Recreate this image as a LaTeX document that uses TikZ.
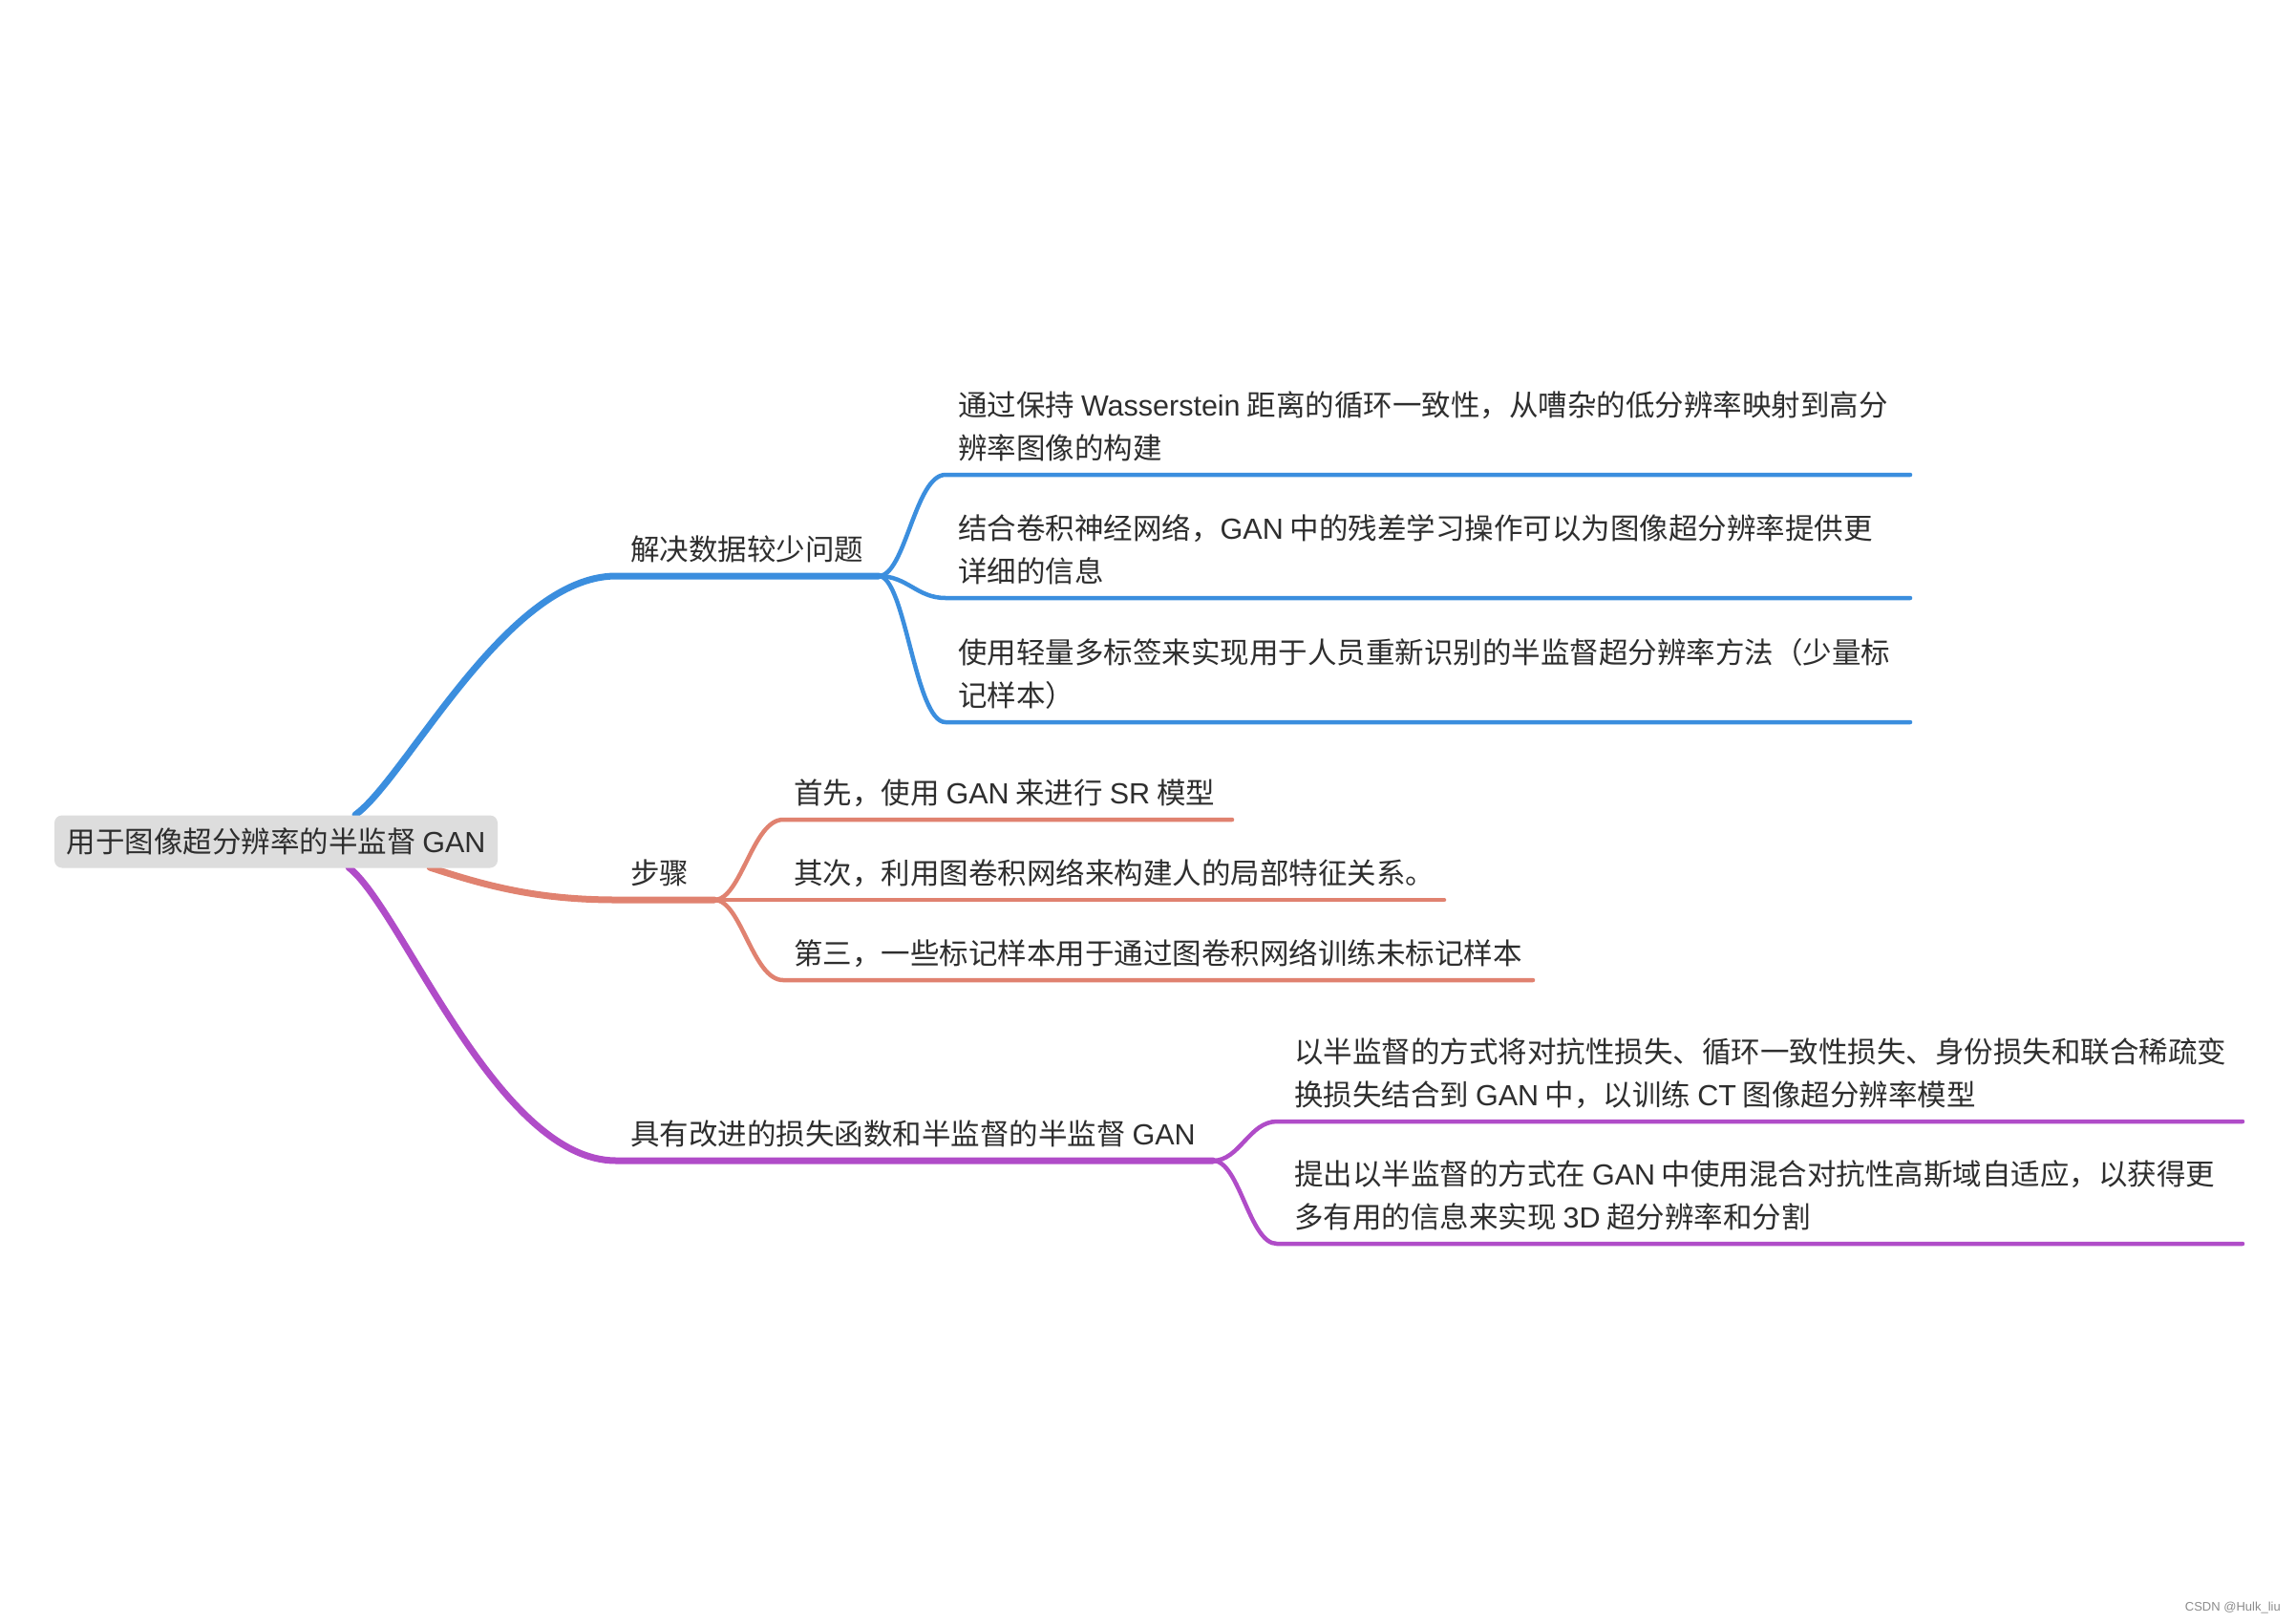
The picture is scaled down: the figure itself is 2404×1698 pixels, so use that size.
\documentclass[tikz,border=0pt]{standalone}
\usepackage{fontspec}
\setmainfont{Noto Sans CJK SC}
\newfontfamily\wmfont{Liberation Sans}
\newfontfamily\latfont{Liberation Sans}
\newcommand\lt[1]{{\latfont #1}}
\definecolor{cblue}{HTML}{3B8EDE}
\definecolor{csalmon}{HTML}{E08270}
\definecolor{cpurple}{HTML}{B04CC8}
\definecolor{rootfill}{HTML}{DDDDDD}
\definecolor{txt}{HTML}{2E2E2E}
\begin{document}
\begin{tikzpicture}[x=1pt,y=-1pt,
  lbl/.style={anchor=base west, inner sep=0pt, text=txt, font=\fontsize{30.5}{45}\selectfont},
  mainline/.style={line width=7pt, line cap=round},
  subline/.style={line width=4.5pt, line cap=round},
  rootbox/.style={fill=rootfill, rounded corners=8pt, inner sep=0pt, minimum width=464pt, minimum height=55pt, text=txt, font=\fontsize{30.5}{45}\selectfont}]
\useasboundingbox[fill=white] (0,0) rectangle (2404,1698);

% coordinates
\coordinate (bA) at (372,853);
\coordinate (bB) at (645,603);
\coordinate (bJ) at (920,603);
\coordinate (b1s) at (990,497);  \coordinate (b1e) at (2000,497);
\coordinate (b2s) at (990,626);  \coordinate (b2e) at (2000,626);
\coordinate (b3s) at (990,756);  \coordinate (b3e) at (2000,756);

\coordinate (sA) at (450,908);
\coordinate (sB) at (645,942);
\coordinate (sJ) at (748,942);
\coordinate (s1s) at (820,858);  \coordinate (s1e) at (1290,858);
\coordinate (s2e) at (1512,942);
\coordinate (s3s) at (820,1026); \coordinate (s3e) at (1605,1026);

\coordinate (pA) at (365,908);
\coordinate (pB) at (645,1215);
\coordinate (pJ) at (1270,1215);
\coordinate (p1s) at (1337,1174); \coordinate (p1e) at (2348,1174);
\coordinate (p2s) at (1337,1302); \coordinate (p2e) at (2348,1302);

% blue branch
\draw[cblue, mainline] (bA) .. controls (425,815) and (530,603) .. (bB) -- (bJ);
\draw[cblue, subline] (bJ) .. controls (948,603) and (958,497) .. (b1s) -- (b1e);
\draw[cblue, subline] (bJ) .. controls (950,603) and (960,626) .. (b2s) -- (b2e);
\draw[cblue, subline] (bJ) .. controls (948,603) and (958,756) .. (b3s) -- (b3e);

% salmon branch
\draw[csalmon, mainline] (sA) .. controls (505,926) and (560,942) .. (sB) -- (sJ);
\draw[csalmon, subline] (sJ) .. controls (776,942) and (788,858) .. (s1s) -- (s1e);
\draw[csalmon, subline] (sJ) -- (s2e);
\draw[csalmon, subline] (sJ) .. controls (776,942) and (788,1026) .. (s3s) -- (s3e);

% purple branch
\draw[cpurple, mainline] (pA) .. controls (420,950) and (520,1215) .. (pB) -- (pJ);
\draw[cpurple, subline] (pJ) .. controls (1298,1215) and (1308,1174) .. (p1s) -- (p1e);
\draw[cpurple, subline] (pJ) .. controls (1298,1215) and (1308,1302) .. (p2s) -- (p2e);

% root
\node[rootbox] (root) at (289,881) {用于图像超分辨率的半监督 \lt{GAN}};

% labels
\node[lbl] (b) at (660,586) {解决数据较少问题};
\node[lbl] (b1) at (1003,480) {\begin{tabular}[b]{@{}l@{}}通过保持 \lt{Wasserstein} 距离的循环一致性，从嘈杂的低分辨率映射到高分\\辨率图像的构建\end{tabular}};
\node[lbl] (b2) at (1003,609) {\begin{tabular}[b]{@{}l@{}}结合卷积神经网络，\lt{GAN} 中的残差学习操作可以为图像超分辨率提供更\\详细的信息\end{tabular}};
\node[lbl] (b3) at (1003,739) {\begin{tabular}[b]{@{}l@{}}使用轻量多标签来实现用于人员重新识别的半监督超分辨率方法（少量标\\记样本）\end{tabular}};

\node[lbl] (s) at (660,925) {步骤};
\node[lbl] (s1) at (831,841) {首先，使用 \lt{GAN} 来进行 \lt{SR} 模型};
\node[lbl] (s2) at (831,925) {其次，利用图卷积网络来构建人的局部特征关系。};
\node[lbl] (s3) at (831,1009) {第三，一些标记样本用于通过图卷积网络训练未标记样本};

\node[lbl] (p) at (660,1198) {具有改进的损失函数和半监督的半监督 \lt{GAN}};
\node[lbl] (p1) at (1355,1157) {\begin{tabular}[b]{@{}l@{}}以半监督的方式将对抗性损失、循环一致性损失、身份损失和联合稀疏变\\换损失结合到 \lt{GAN} 中，以训练 \lt{CT} 图像超分辨率模型\end{tabular}};
\node[lbl] (p2) at (1355,1285) {\begin{tabular}[b]{@{}l@{}}提出以半监督的方式在 \lt{GAN} 中使用混合对抗性高斯域自适应，以获得更\\多有用的信息来实现 \lt{3D} 超分辨率和分割\end{tabular}};

\node[anchor=east, inner sep=0pt, text=black!45, font=\wmfont\fontsize{13}{15}\selectfont] (wm) at (2388,1683) {CSDN @Hulk\_liu};
\end{tikzpicture}
\end{document}
